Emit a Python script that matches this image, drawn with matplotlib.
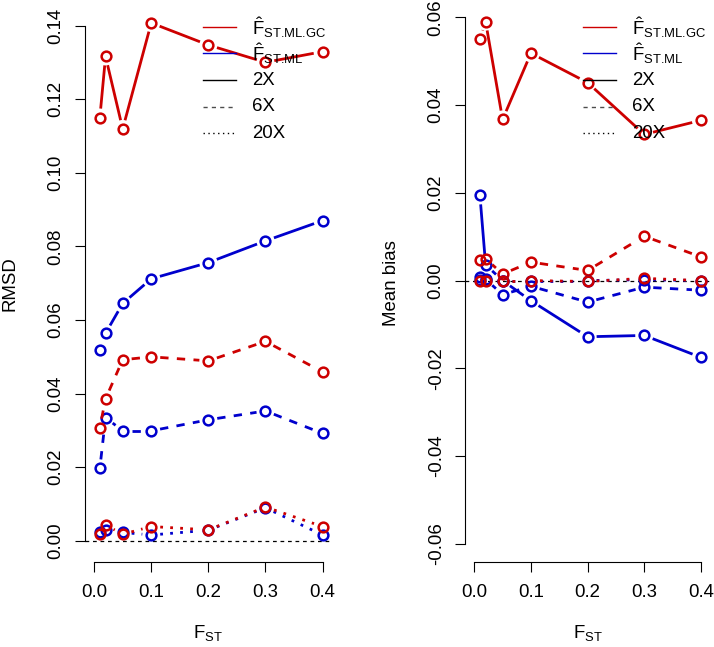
import numpy as np
import matplotlib.pyplot as plt

plt.rcParams['font.family'] = ['Liberation Sans', 'DejaVu Sans']
plt.rcParams['mathtext.fontset'] = 'custom'
plt.rcParams['mathtext.rm'] = 'Liberation Sans'
plt.rcParams['mathtext.it'] = 'Liberation Sans:italic'
plt.rcParams['mathtext.bf'] = 'Liberation Sans:bold'

fst = [0.01, 0.02, 0.05, 0.1, 0.2, 0.3, 0.4]

# RMSD (left panel)
rmsd_gc_2x = [0.1150, 0.1316, 0.1119, 0.1407, 0.1347, 0.1300, 0.1329]
rmsd_ml_2x = [0.0518, 0.0564, 0.0645, 0.0712, 0.0756, 0.0815, 0.0870]
rmsd_gc_6x = [0.0308, 0.0386, 0.0492, 0.0500, 0.0489, 0.0542, 0.0459]
rmsd_ml_6x = [0.0197, 0.0335, 0.0299, 0.0299, 0.0329, 0.0353, 0.0292]
rmsd_gc_20x = [0.0020, 0.0043, 0.0018, 0.0039, 0.0030, 0.0092, 0.0039]
rmsd_ml_20x = [0.0023, 0.0030, 0.0023, 0.0016, 0.0029, 0.0090, 0.0016]

# mean bias (right panel)
bias_gc_2x = [0.0550, 0.0590, 0.0367, 0.0518, 0.0451, 0.0333, 0.0365]
bias_ml_2x = [0.0194, 0.0036, 0.0000, -0.0046, -0.0128, -0.0125, -0.0175]
bias_gc_6x = [0.0046, 0.0050, 0.0015, 0.0042, 0.0023, 0.0101, 0.0054]
bias_ml_6x = [0.0008, 0.0003, -0.0032, -0.0013, -0.0049, -0.0015, -0.0022]
bias_gc_20x = [0.0000, 0.0000, 0.0000, 0.0000, -0.0002, 0.0005, 0.0000]
bias_ml_20x = [0.0001, 0.0001, 0.0000, 0.0000, 0.0000, 0.0002, 0.0000]

red = '#CD0000'
blue = '#0000CD'
styles = ['-', (0, (3, 3)), (0, (1, 2.6))]
legend_labels = [r'$\hat{\mathrm{F}}_{\text{ST.ML.GC}}$', r'$\hat{\mathrm{F}}_{\text{ST.ML}}$',
                 '2X', '6X', '20X']
fs = 13.4


def b_line(ax, x, y, color, ls, gap=9):
    # R's type="b": segments stop short of the points
    pts = ax.transData.transform(np.column_stack([x, y]))
    inv = ax.transData.inverted()
    for p, q in zip(pts[:-1], pts[1:]):
        d = q - p
        n = np.hypot(*d)
        if n <= 2 * gap:
            continue
        u = d / n
        seg = inv.transform(np.array([p + u * gap, q - u * gap]))
        ax.plot(seg[:, 0], seg[:, 1], color=color, lw=2, ls=ls, solid_capstyle='butt')
    ax.plot(x, y, 'o', ms=7, mfc='none', mec=color, mew=1.8, ls='none')


def setup(ax, ylim, yticks, ylabel, pad):
    ax.set_xlim(-0.016, 0.416)
    ax.set_ylim(*ylim)
    for s in ['top', 'right']:
        ax.spines[s].set_visible(False)
    ax.spines['left'].set_bounds(yticks[0], yticks[-1])
    ax.spines['bottom'].set_bounds(0, 0.4)
    for s in ['left', 'bottom']:
        ax.spines[s].set_linewidth(0.8)
    ax.set_xticks([0, 0.1, 0.2, 0.3, 0.4])
    ax.set_xticklabels(['0.0', '0.1', '0.2', '0.3', '0.4'])
    ax.set_yticks(yticks)
    ax.set_yticklabels(['%.2f' % v for v in yticks])
    ax.tick_params(axis='x', length=7.5, width=0.8, pad=8.8, labelsize=fs)
    ax.tick_params(axis='y', length=7.5, width=0.8, pad=7.3, labelsize=fs, labelrotation=90)
    for t in ax.get_yticklabels():
        t.set_va('center')
    ax.set_ylabel(ylabel, fontsize=fs, labelpad=pad)
    ax.set_xlabel(r'$\mathrm{F}_{\mathrm{ST}}$', fontsize=fs, labelpad=15.5)
    ax.axhline(0, color='black', lw=0.9, ls=(0, (3, 3)), zorder=1)


def legend(ax, x0, x1, xt):
    ys = [0.960, 0.913, 0.865, 0.817, 0.769]
    cols = [red, blue, 'black', '0.3', 'black']
    lss = ['-', '-', '-', (0, (3, 3)), (0, (1, 2.5))]
    for y, c, s, lab in zip(ys, cols, lss, legend_labels):
        ax.plot([x0, x1], [y, y], color=c, lw=1, ls=s, transform=ax.transAxes, clip_on=False)
        ax.text(xt, y, lab, fontsize=fs, va='center', ha='left', transform=ax.transAxes)


fig = plt.figure(figsize=(7.14, 6.47), dpi=100)
W, H = 714, 647
top, bot = 4.9, 561.5
ax1 = fig.add_axes([85 / W, 1 - bot / H, (331.7 - 85) / W, (bot - top) / H])
ax2 = fig.add_axes([465.2 / W, 1 - bot / H, (710 - 465.2) / W, (bot - top) / H])

setup(ax1, (-0.0056, 0.1456), np.arange(0, 0.141, 0.02), 'RMSD', 20.5)
setup(ax2, (-0.0640, 0.0628), np.arange(-0.06, 0.061, 0.02), 'Mean bias', 20)

left_ml = [rmsd_ml_2x, rmsd_ml_6x, rmsd_ml_20x]
left_gc = [rmsd_gc_2x, rmsd_gc_6x, rmsd_gc_20x]
right_ml = [bias_ml_2x, bias_ml_6x, bias_ml_20x]
right_gc = [bias_gc_2x, bias_gc_6x, bias_gc_20x]

for s, ml, gc in zip(styles, left_ml, left_gc):
    b_line(ax1, fst, ml, blue, s)
    b_line(ax1, fst, gc, red, s)
for s, ml, gc in zip(styles, right_ml, right_gc):
    b_line(ax2, fst, ml, blue, s)
    b_line(ax2, fst, gc, red, s)

legend(ax1, 0.478, 0.611, 0.677)
legend(ax2, 0.482, 0.616, 0.680)

fig.savefig('out.png', dpi=100)
